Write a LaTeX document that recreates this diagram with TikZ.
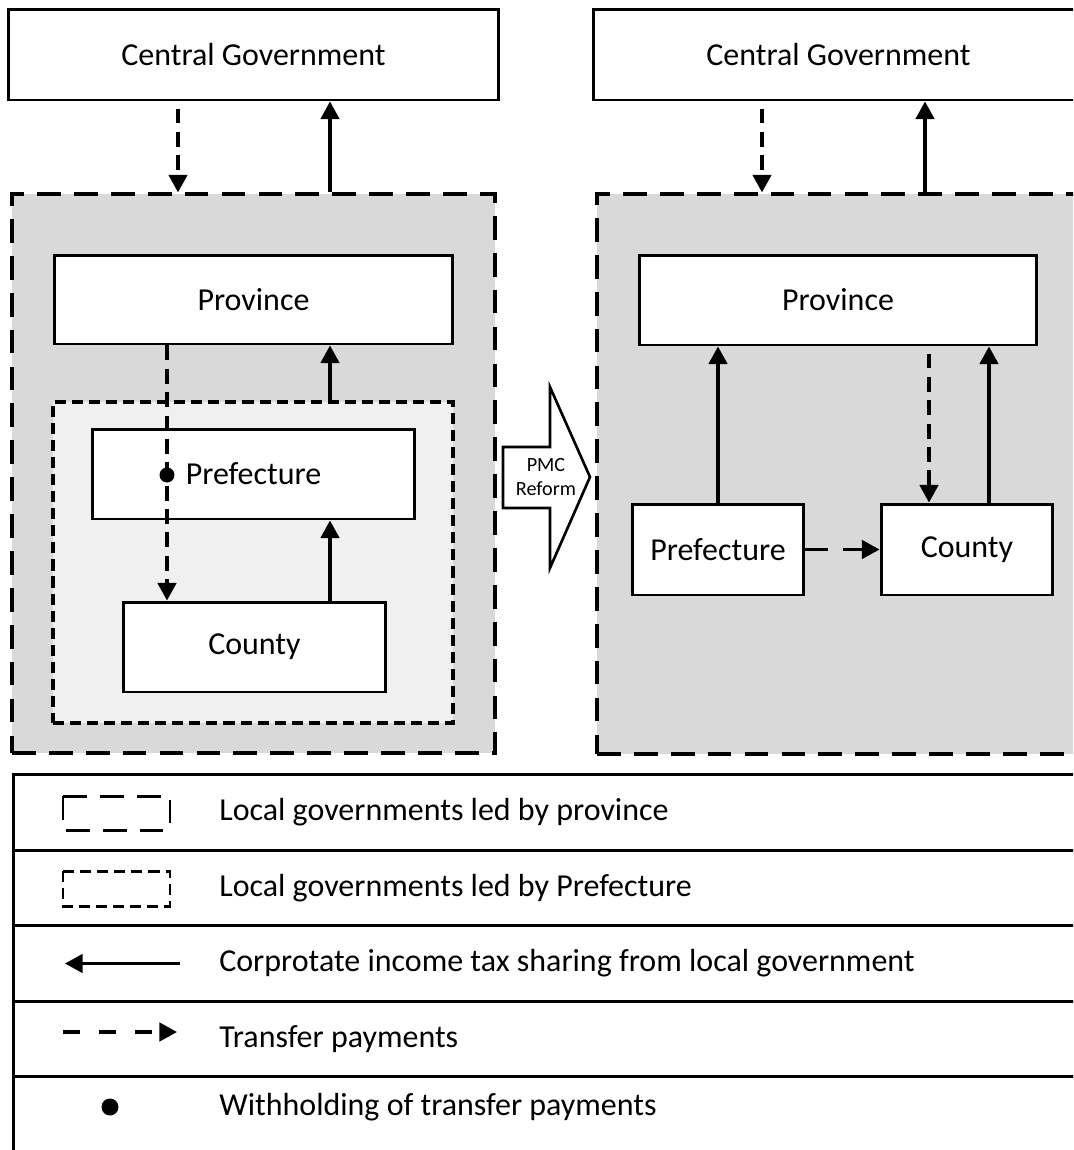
\documentclass[tikz,border=0pt]{standalone}
\usepackage{fontspec}
\setmainfont{Carlito}
\usetikzlibrary{arrows.meta}
\definecolor{zonegray}{RGB}{217,217,217}
\definecolor{subzonegray}{RGB}{240,240,240}

\tikzset{
  govbox/.style={draw,fill=white,line width=1.7pt,inner sep=0pt,
    font=\fontsize{18.2pt}{22pt}\selectfont},
  provzone/.style={draw,fill=zonegray,line width=1.9pt,inner sep=0pt,
    dash pattern=on 13.5pt off 7.5pt},
  prefzone/.style={draw,fill=subzonegray,line width=1.8pt,inner sep=0pt,
    dash pattern=on 6.3pt off 3.4pt},
  tax/.style={line width=1.8pt,-{Triangle[length=10pt,width=10.5pt]}},
  transfer/.style={tax,dash pattern=on 8.5pt off 4.8pt},
  legendrow/.style={draw,line width=1.7pt,anchor=west,inner sep=0pt,
    minimum width=22cm,minimum height=1.51cm},
  legendtext/.style={anchor=west,inner sep=0pt,
    font=\fontsize{18.2pt}{22pt}\selectfont}
}

\begin{document}
\begin{tikzpicture}[x=0.02cm,y=-0.02cm]
\useasboundingbox (0,0) rectangle (1073,1150);
\clip (0,0) rectangle (1073,1150);

% before the reform
\node[govbox,minimum width=9.82cm,minimum height=1.82cm] (cgL) at (253.5,54.5) {Central Government};
\node[provzone,minimum width=9.66cm,minimum height=11.18cm] (zoneL) at (253.5,473.5) {};
\node[govbox,minimum width=7.98cm,minimum height=1.78cm] (provL) at (253.5,299.5) {Province};
\node[prefzone,minimum width=8cm,minimum height=6.42cm] (innerL) at (253,562.5) {};
\node[govbox,minimum width=6.46cm,minimum height=1.8cm] (prefL) at (253.5,474) {Prefecture};
\node[govbox,minimum width=5.26cm,minimum height=1.8cm] (cntyL) at (254.5,647) {County};

\coordinate (tL) at (178,0);
\coordinate (sL) at (330,0);
\coordinate (dL) at (167,0);
\coordinate (hold) at (167,475);

\draw[transfer,shorten <=4pt] (cgL.south -| tL) -- (zoneL.north -| tL);
\draw[tax] (zoneL.north -| sL) -- (cgL.south -| sL);
\draw[tax] (innerL.north -| sL) -- (provL.south -| sL);
\draw[tax] (cntyL.north -| sL) -- (prefL.south -| sL);
\draw[transfer] (provL.south -| dL) -- (cntyL.north -| dL);
\fill (hold) circle (0.15cm);

% the reform
\draw[line width=1.5pt,fill=white] (503,447) -- (550,447) -- (550,387) -- (590,477)
  -- (550,568) -- (550,508) -- (503,508) -- cycle;
\node[align=center,inner sep=0pt,font=\fontsize{11.5pt}{14pt}\selectfont] (pmc) at (546,477) {PMC\\Reform};

% after the reform
\node[govbox,minimum width=9.82cm,minimum height=1.82cm] (cgR) at (838.5,54.5) {Central Government};
\node[provzone,minimum width=9.66cm,minimum height=11.2cm] (zoneR) at (838.5,474) {};
\node[govbox,minimum width=7.96cm,minimum height=1.8cm] (provR) at (838,300) {Province};
\node[govbox,minimum width=3.44cm,minimum height=1.82cm] (prefR) at (718,549.5) {Prefecture};
\node[govbox,minimum width=3.44cm,minimum height=1.82cm] (cntyR) at (967,549.5) {County};

\coordinate (tR) at (762,0);
\coordinate (sR) at (925,0);
\coordinate (dR) at (929,0);
\coordinate (uR) at (989,0);

\draw[transfer,shorten <=4pt] (cgR.south -| tR) -- (zoneR.north -| tR);
\draw[tax] (zoneR.north -| sR) -- (cgR.south -| sR);
\draw[tax] (prefR.north) -- (provR.south -| prefR.north);
\draw[transfer,shorten <=4pt] (provR.south -| dR) -- (cntyR.north -| dR);
\draw[tax] (cntyR.north -| uR) -- (provR.south -| uR);
\draw[tax,dash pattern=on 13pt off 8.5pt] (prefR.east) -- (cntyR.west);

% legend
\node[legendrow] (rowA) at (12,812.5) {};
\node[legendrow] (rowB) at (12,888) {};
\node[legendrow] (rowC) at (12,963.5) {};
\node[legendrow] (rowD) at (12,1039) {};
\node[legendrow] (rowE) at (12,1114.5) {};

\draw[line width=1.7pt,dash pattern=on 13.5pt off 7.5pt] (63,796) rectangle (170,830);
\draw[line width=1.7pt,dash pattern=on 6.3pt off 3.4pt] (63,871) rectangle (170,906);
\draw[tax] (180,963.5) -- (65,963.5);
\draw[tax,dash pattern=on 9.6pt off 11pt] (63,1032) -- (177,1032);
\fill (110,1107) circle (0.17cm);

\node[legendtext] (txtA) at (219,812.5) {Local governments led by province};
\node[legendtext] (txtB) at (219,888) {Local governments led by Prefecture};
\node[legendtext] (txtC) at (219,963.5) {Corprotate income tax sharing from local government};
\node[legendtext] (txtD) at (219,1039) {Transfer payments};
\node[legendtext] (txtE) at (219,1107) {Withholding of transfer payments};
\end{tikzpicture}
\end{document}
